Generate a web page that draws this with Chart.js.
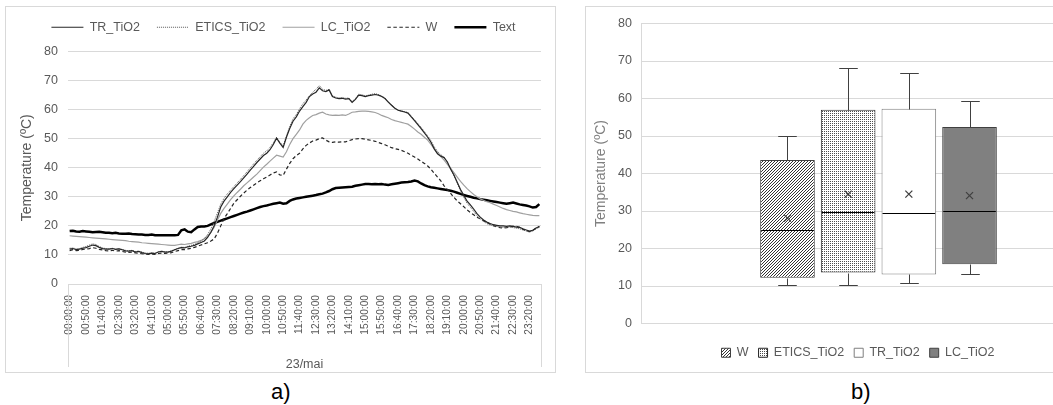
<!DOCTYPE html>
<html>
<head>
<meta charset="utf-8">
<script src="https://cdn.jsdelivr.net/npm/chart.js@4.4.1/dist/chart.umd.min.js"></script>
<style>
  body { margin: 0; width: 1053px; height: 405px; overflow: hidden; background: #fff; position: relative;
         font-family: "Liberation Sans", Arial, sans-serif; }
  .frame { position: absolute; border: 1px solid #d9d9d9; box-sizing: border-box; }
  .tag { position: absolute; font-size: 22px; color: #000; }
</style>
</head>
<body>
<div class="frame" style="left:5px;top:6px;width:551px;height:367px"><canvas id="lineChart" width="549" height="365"></canvas></div>
<div class="frame" style="left:585px;top:6px;width:546px;height:367px"><canvas id="boxChart" width="544" height="365"></canvas></div>
<div class="tag" style="left:271px;top:379px">a)</div>
<div class="tag" style="left:851px;top:379px">b)</div>

<script>
// ---- a) temperature over the day, 10 min steps ----
var times = [];
for (var m = 0; m < 24 * 60; m += 10) {
    var hh = String(Math.floor(m / 60)).padStart(2, '0');
    var mm = String(m % 60).padStart(2, '0');
    times.push(hh + ':' + mm + ':00');
}
var dayLabel = '23/mai';

var trTiO2 = [12.0,12.2,11.8,12.0,12.3,12.5, 13.0,13.4,13.2,12.6,12.2,12.0,
    12.0,12.2,11.9,12.1,11.8,11.4, 11.3,11.5,11.0,11.2,10.8,10.5,
    10.4,10.6,10.5,11.0,11.2,11.0, 11.0,11.3,11.8,12.2,12.5,12.4,
    12.8,13.0,13.3,13.8,14.3,14.8, 16.0,17.8,20.0,23.0,26.5,28.5,
    30.0,31.5,32.8,34.0,35.2,36.5, 37.8,39.2,40.5,41.8,43.0,44.2,
    45.0,46.2,48.0,50.2,48.5,47.0, 50.5,53.5,56.0,57.5,59.5,61.0,
    62.5,64.5,65.4,66.0,67.5,66.5, 66.2,66.8,64.5,64.0,63.8,63.9,
    63.6,63.8,62.5,63.5,65.0,64.8, 64.5,64.8,65.0,65.2,65.0,64.5,
    63.8,62.6,61.5,60.5,59.8,59.5, 59.2,58.8,57.5,56.2,54.8,53.5,
    52.0,50.5,48.8,46.5,44.8,44.0, 43.5,42.0,39.5,37.5,35.0,32.5,
    30.5,28.5,27.2,25.8,24.2,23.0, 22.0,21.3,20.8,20.4,20.2,20.0,
    20.0,19.8,20.0,19.8,19.6,19.5, 19.0,18.6,18.2,18.5,19.3,19.8];

var eticsTiO2 = [12.3,12.4,12.1,12.2,12.6,12.9, 13.4,13.8,13.6,12.9,12.4,12.2,
    12.1,12.3,12.0,12.2,11.9,11.6, 11.4,11.6,11.2,11.3,11.0,10.7,
    10.6,10.7,10.6,11.1,11.3,11.1, 11.1,11.4,11.9,12.3,12.7,12.6,
    13.0,13.3,13.6,14.2,14.8,15.6, 17.0,19.0,21.5,24.5,27.5,29.5,
    31.0,32.3,33.5,34.8,36.0,37.3, 38.6,40.0,41.3,42.6,43.8,45.0,
    45.8,47.0,48.6,50.5,48.8,47.5, 51.0,54.2,56.8,58.3,60.3,62.0,
    63.3,64.8,66.0,67.0,68.3,67.0, 66.6,67.0,64.8,64.3,64.0,64.2,
    63.9,64.0,62.8,63.8,65.3,65.1, 64.8,65.0,65.3,65.5,65.2,64.7,
    64.0,62.8,61.6,60.6,59.8,59.5, 59.3,59.0,57.8,56.5,55.2,53.9,
    52.4,51.0,49.3,47.2,45.6,44.5, 43.6,41.8,39.8,37.2,34.6,32.0,
    29.8,27.8,26.4,25.0,23.5,22.4, 21.5,20.8,20.3,20.0,19.8,19.6,
    19.5,19.4,19.6,19.4,19.2,19.0, 18.6,18.2,17.9,18.2,19.0,19.5];

var lcTiO2 = [16.6,16.5,16.4,16.3,16.2,16.1, 16.0,15.9,15.8,15.7,15.6,15.5,
    15.4,15.3,15.2,15.1,15.0,14.9, 14.7,14.6,14.5,14.4,14.2,14.1,
    14.0,13.9,13.8,13.7,13.6,13.5, 13.4,13.3,13.3,13.5,13.7,13.6,
    13.8,14.0,14.3,14.6,15.0,15.6, 16.5,17.8,19.5,22.0,24.3,26.0,
    27.5,29.0,30.3,31.5,32.6,33.8, 34.8,35.8,36.8,37.8,39.0,40.2,
    41.2,42.3,43.3,44.3,44.0,43.7, 45.5,48.0,50.0,51.5,53.0,55.0,
    56.3,57.2,58.0,58.3,58.8,59.1, 58.5,58.2,58.0,58.1,58.0,58.2,
    58.0,58.5,59.1,59.2,59.4,59.5, 59.5,59.4,59.2,59.0,58.6,58.0,
    57.6,57.2,56.6,56.2,55.9,55.6, 55.3,55.0,54.2,53.3,52.3,51.5,
    50.5,49.5,48.0,46.5,45.0,43.8, 42.6,41.2,39.8,38.3,36.8,35.3,
    34.0,32.8,31.8,30.8,30.0,29.3, 28.8,28.3,28.0,27.5,27.0,26.5,
    26.0,25.6,25.3,25.0,24.8,24.5, 24.2,24.0,23.8,23.6,23.5,23.5];

var wRef = [11.5,11.8,11.5,11.6,11.9,12.0, 12.2,12.5,12.3,11.9,11.7,11.5,
    11.4,11.6,11.3,11.5,11.2,11.0, 10.9,11.0,10.7,10.6,10.4,10.3,
    10.2,10.3,10.2,10.5,10.6,10.5, 10.6,10.8,11.2,11.5,11.8,11.8,
    12.1,12.3,12.6,13.0,13.4,13.8, 14.2,14.8,15.5,17.5,20.0,22.5,
    24.2,26.0,27.8,29.0,30.2,31.3, 32.3,33.2,34.0,34.8,35.5,36.2,
    36.8,37.5,38.2,38.6,37.5,37.4, 39.5,41.5,43.1,44.2,45.0,46.5,
    47.7,48.5,49.2,49.5,50.0,50.3, 49.5,48.9,48.7,48.9,48.8,48.9,
    48.9,49.3,49.7,49.9,50.0,50.0, 49.8,49.6,49.4,49.1,48.7,48.3,
    47.9,47.4,46.9,46.6,46.3,46.0, 45.5,45.0,44.3,43.7,43.0,42.2,
    41.5,40.6,39.5,38.1,36.8,35.5, 33.8,32.5,31.2,29.8,28.6,27.6,
    26.6,25.5,24.6,23.8,23.0,22.4, 21.8,21.2,20.6,20.1,19.7,19.4,
    19.3,19.4,19.6,19.8,19.9,19.5, 18.8,18.3,18.0,18.5,19.2,19.8];

var tExt = [18.2,18.3,18.1,18.0,18.2,18.1, 18.0,17.8,17.9,18.0,17.8,17.6,
    17.6,17.5,17.6,17.4,17.3,17.3, 17.4,17.2,17.1,17.0,17.0,16.9,
    16.9,17.0,16.8,16.8,16.8,16.8, 16.8,16.8,16.8,16.9,18.5,18.8,
    18.0,17.8,18.8,19.6,19.8,19.8, 20.0,20.5,21.0,21.4,21.8,22.2,
    22.6,23.0,23.4,23.8,24.2,24.6, 24.9,25.3,25.7,26.1,26.5,26.8,
    27.0,27.3,27.6,27.8,28.0,27.6, 27.8,28.6,29.1,29.4,29.6,29.8,
    30.0,30.2,30.4,30.6,30.9,31.1, 31.5,32.0,32.6,33.0,33.1,33.2,
    33.3,33.4,33.5,33.8,34.0,34.2, 34.4,34.4,34.3,34.4,34.3,34.4,
    34.2,34.1,34.3,34.5,34.7,34.9, 35.0,35.1,35.3,35.6,35.3,34.6,
    34.0,33.6,33.3,33.1,32.9,32.7, 32.5,32.3,32.1,31.8,31.4,31.0,
    30.6,30.3,30.0,29.7,29.5,29.2, 29.0,28.8,28.6,28.4,28.2,28.0,
    27.8,27.6,27.8,28.0,27.7,27.4, 27.2,27.0,26.7,26.3,26.5,27.5];

// ---- b) box plot statistics ----
var boxNames = ['W', 'ETICS_TiO2', 'TR_TiO2', 'LC_TiO2'];
var boxMin = [10.2, 10.2, 10.7, 13.1];
var boxQ1 = [12.2, 13.6, 13.1, 15.8];
var boxMedian = [24.8, 29.7, 29.5, 30.1];
var boxQ3 = [43.6, 57.0, 57.3, 52.4];
var boxMax = [50.0, 68.1, 66.8, 59.3];
var boxMean = [28.1, 34.5, 34.5, 34.1];

var yTicks = [0, 10, 20, 30, 40, 50, 60, 70, 80];

Chart.defaults.font.family = '"Liberation Sans", Arial, sans-serif';
Chart.defaults.color = '#595959';
Chart.defaults.animation = false;

// extra room under the legend, and a sideways nudge
var legendTweak = {
    id: 'legendTweak',
    beforeInit(chart, args, opts) {
        var fit = chart.legend.fit;
        chart.legend.fit = function () {
            fit.bind(chart.legend)();
            this.height += opts.extra || 0;
        };
    },
    afterLayout(chart, args, opts) {
        chart.legend.left += opts.dx || 0;
        chart.legend.right += opts.dx || 0;
    }
};

// vertical separators of the multi level category axis
var levelLines = {
    id: 'levelLines',
    afterDraw(chart) {
        var a = chart.chartArea, ctx = chart.ctx;
        ctx.save();
        ctx.strokeStyle = '#d9d9d9';
        ctx.lineWidth = 1;
        ctx.beginPath();
        [a.left, a.right].forEach(function (x) {
            x = Math.round(x) + 0.5;
            ctx.moveTo(x, a.bottom);
            ctx.lineTo(x, a.bottom + 83);
        });
        ctx.stroke();
        ctx.restore();
    }
};

new Chart(document.getElementById('lineChart'), {
    type: 'line',
    data: {
        labels: times,
        datasets: [
            { label: 'TR_TiO2', data: trTiO2, borderColor: '#262626', borderWidth: 1.2 },
            { label: 'ETICS_TiO2', data: eticsTiO2, borderColor: '#595959', borderWidth: 1, borderDash: [1, 1] },
            { label: 'LC_TiO2', data: lcTiO2, borderColor: '#a0a0a0', borderWidth: 1.2 },
            { label: 'W', data: wRef, borderColor: '#262626', borderWidth: 1.2, borderDash: [3.5, 2.5] },
            { label: 'Text', data: tExt, borderColor: '#000000', borderWidth: 2.5 }
        ]
    },
    options: {
        responsive: false,
        elements: { point: { radius: 0 }, line: { tension: 0 } },
        layout: { padding: { top: -3, right: 14, bottom: 0, left: 0 } },
        plugins: {
            legendTweak: { extra: 8, dx: 10 },
            tooltip: { enabled: false },
            legend: {
                position: 'top',
                labels: {
                    usePointStyle: true,
                    pointStyle: 'line',
                    pointStyleWidth: 32,
                    padding: 17,
                    color: '#595959',
                    font: { size: 12.5 },
                    generateLabels: function (chart) {
                        var items = Chart.defaults.plugins.legend.labels.generateLabels(chart);
                        items.forEach(function (it) {
                            var ds = chart.data.datasets[it.datasetIndex];
                            it.lineDash = ds.borderDash || [];
                            it.lineWidth = ds.borderWidth;
                            it.strokeStyle = ds.borderColor;
                        });
                        return items;
                    }
                }
            }
        },
        scales: {
            x: {
                offset: true,
                grid: { display: false },
                border: { color: '#d9d9d9' },
                ticks: {
                    autoSkip: false,
                    minRotation: 90,
                    maxRotation: 90,
                    padding: 3,
                    font: { size: 10.2 },
                    callback: function (v, i) { return i % 5 === 0 ? this.getLabelForValue(v) : null; }
                },
                title: { display: true, text: dayLabel, font: { size: 12.5 }, color: '#595959', padding: { top: 0, bottom: 0 } },
                afterFit: function (s) { s.height = 88; }
            },
            y: {
                min: 0, max: 80,
                afterBuildTicks: function (s) { s.ticks = yTicks.map(function (v) { return { value: v }; }); },
                grid: { color: '#d9d9d9', drawTicks: false },
                border: { display: false },
                ticks: { padding: 10, font: { size: 12.5 } },
                title: { display: true, text: 'Temperature (ºC)', font: { size: 14 }, color: '#595959', padding: { top: 13, bottom: 0 } },
                afterFit: function (s) { s.width = 62; }
            }
        }
    },
    plugins: [legendTweak, levelLines]
});

// ---- b) box plot ----
function makePattern(size, ink, dark) {
    var c = document.createElement('canvas');
    c.width = size; c.height = size;
    var g = c.getContext('2d');
    g.fillStyle = '#ffffff';
    g.fillRect(0, 0, size, size);
    g.fillStyle = ink;
    for (var px = 0; px < size; px++) {
        for (var py = 0; py < size; py++) {
            if (dark(px, py)) g.fillRect(px, py, 1, 1);
        }
    }
    return g.createPattern(c, 'repeat');
}
var hatch = makePattern(3, '#333333', function (x, y) { return (x + y) % 3 === 0; });
var dots = makePattern(2, '#4d4d4d', function (x, y) { return x === 0 && y === 0; });

var boxFills = [hatch, dots, '#ffffff', '#808080'];
var boxBorders = ['#404040', '#262626', '#7f7f7f', '#404040'];

var whiskers = {
    id: 'whiskers',
    afterDatasetsDraw(chart) {
        var ctx = chart.ctx, ys = chart.scales.y;
        var py = function (v) { return Math.round(ys.getPixelForValue(v)) + 0.5; };
        chart.data.datasets.forEach(function (ds, i) {
            var bar = chart.getDatasetMeta(i).data[0];
            var x = Math.round(bar.x) + 0.5, half = bar.width / 2, cap = bar.width * 0.17;
            ctx.save();
            ctx.lineWidth = 1;
            ctx.strokeStyle = '#404040';
            ctx.beginPath();
            ctx.moveTo(x, py(boxQ3[i])); ctx.lineTo(x, py(boxMax[i]));
            ctx.moveTo(x - cap, py(boxMax[i])); ctx.lineTo(x + cap, py(boxMax[i]));
            ctx.moveTo(x, py(boxQ1[i])); ctx.lineTo(x, py(boxMin[i]));
            ctx.moveTo(x - cap, py(boxMin[i])); ctx.lineTo(x + cap, py(boxMin[i]));
            ctx.stroke();
            ctx.strokeStyle = '#000000';
            ctx.beginPath();
            ctx.moveTo(bar.x - half + 1, py(boxMedian[i])); ctx.lineTo(bar.x + half - 1, py(boxMedian[i]));
            ctx.stroke();
            var my = ys.getPixelForValue(boxMean[i]), r = 3.5;
            ctx.strokeStyle = '#404040';
            ctx.lineWidth = 1.3;
            ctx.beginPath();
            ctx.moveTo(bar.x - r, my - r); ctx.lineTo(bar.x + r, my + r);
            ctx.moveTo(bar.x + r, my - r); ctx.lineTo(bar.x - r, my + r);
            ctx.stroke();
            ctx.restore();
        });
    }
};

new Chart(document.getElementById('boxChart'), {
    type: 'bar',
    data: {
        labels: [''],
        datasets: boxNames.map(function (name, i) {
            return {
                label: name,
                data: [[boxQ1[i], boxQ3[i]]],
                backgroundColor: boxFills[i],
                borderColor: boxBorders[i],
                borderWidth: 1,
                borderSkipped: false,
                categoryPercentage: 0.511,
                barPercentage: 0.9
            };
        })
    },
    options: {
        responsive: false,
        layout: { padding: { top: 11, right: 14, bottom: 3, left: 0 } },
        plugins: {
            legendTweak: { extra: 0, dx: 7 },
            tooltip: { enabled: false },
            legend: {
                position: 'bottom',
                labels: {
                    boxWidth: 9,
                    boxHeight: 9,
                    padding: 10,
                    color: '#595959',
                    font: { size: 12.5 }
                }
            }
        },
        scales: {
            x: {
                display: true,
                grid: { display: false },
                border: { display: false },
                ticks: { display: false },
                afterFit: function (s) { s.height = 13; }
            },
            y: {
                min: 0, max: 80,
                afterBuildTicks: function (s) { s.ticks = yTicks.map(function (v) { return { value: v }; }); },
                grid: { color: '#d9d9d9', drawTicks: false },
                border: { display: true, color: '#d9d9d9' },
                ticks: { padding: 9, font: { size: 12.5 } },
                title: { display: true, text: 'Temperature (ºC)', font: { size: 14 }, color: '#808080', padding: { top: 7, bottom: 0 } },
                afterFit: function (s) { s.width = 55; }
            }
        }
    },
    plugins: [legendTweak, whiskers]
});
</script>
</body>
</html>
